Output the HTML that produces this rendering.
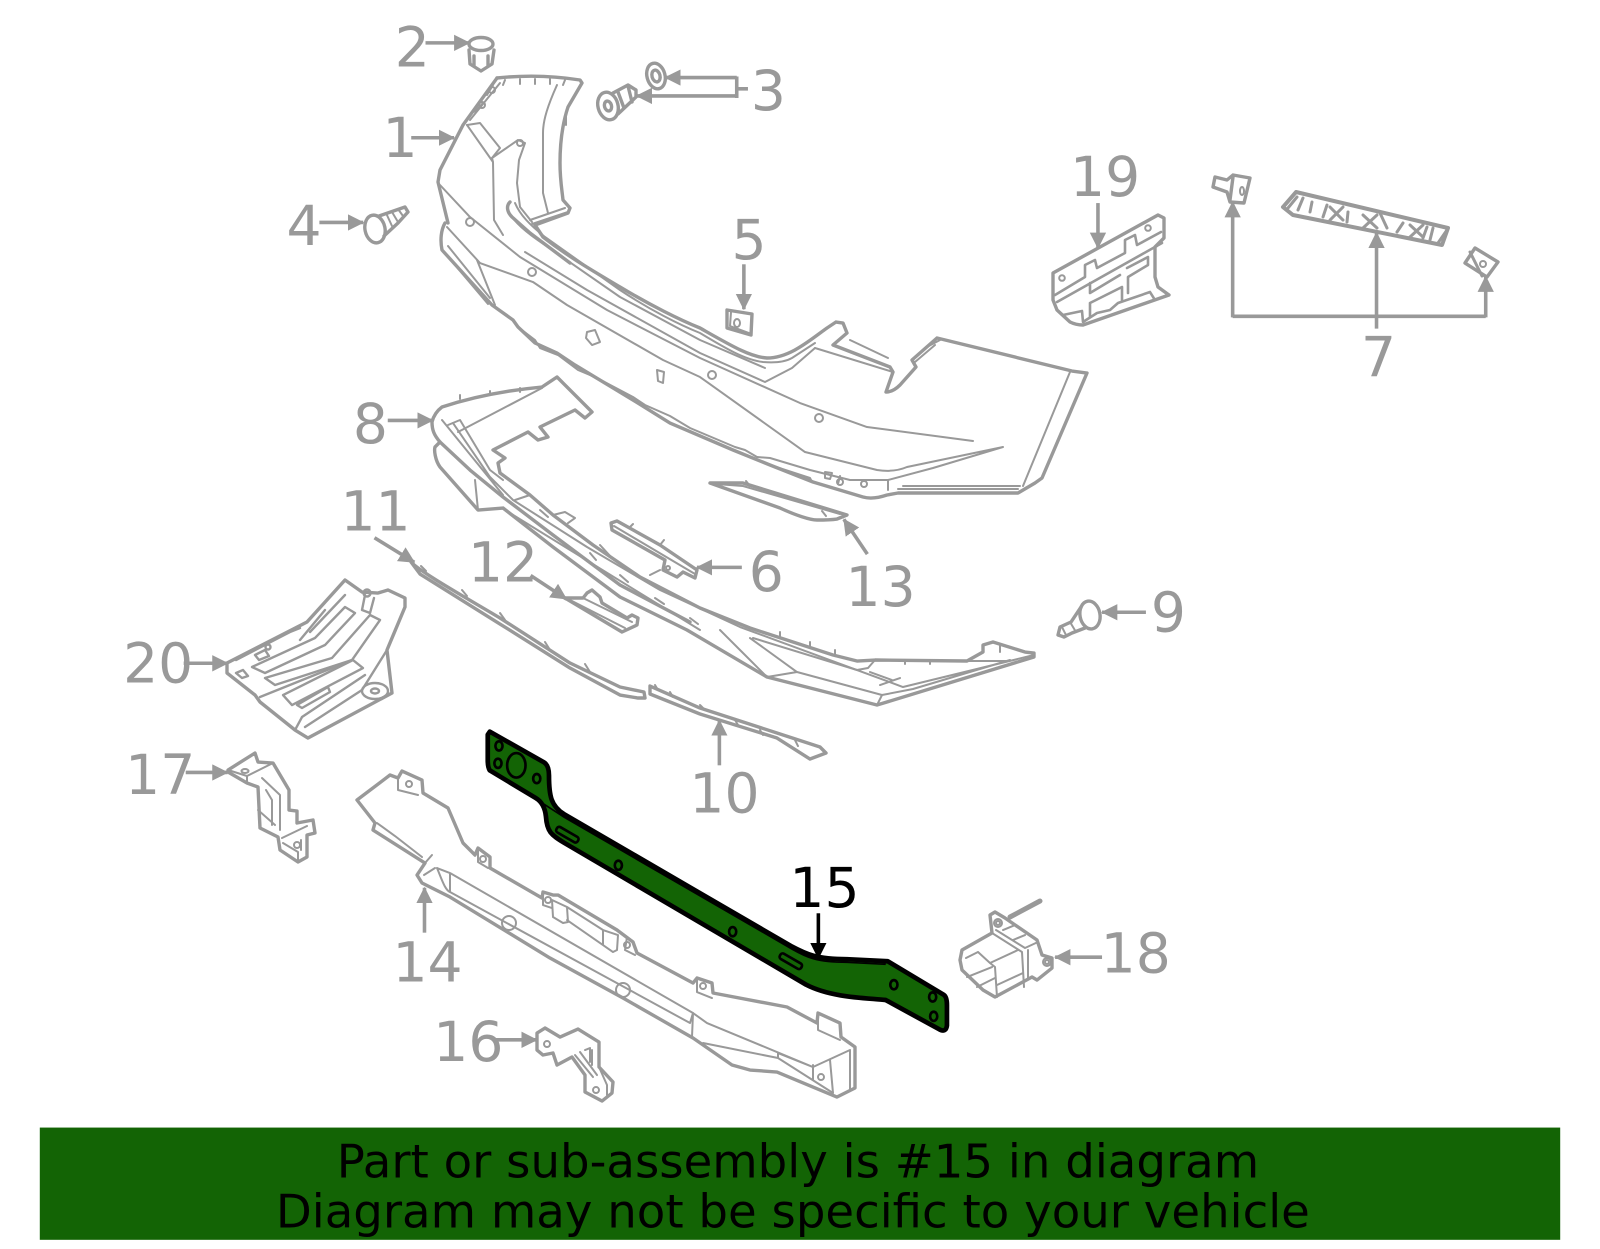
<!DOCTYPE html>
<html><head><meta charset="utf-8"><title>Bumper diagram</title>
<style>
html,body{margin:0;padding:0;background:#fff}
svg{display:block;width:1600px;height:1249px}
text{font-family:"DejaVu Sans",sans-serif}
.g{fill:none;stroke:#999;stroke-width:3.4;stroke-linejoin:round;stroke-linecap:round}
.t{fill:none;stroke:#999;stroke-width:2;stroke-linejoin:round;stroke-linecap:round}
.a{fill:none;stroke:#999;stroke-width:3.5}
.l{font-size:54px;fill:#999;text-anchor:middle}
</style></head><body>
<svg viewBox="0 0 1568 1224" preserveAspectRatio="none" xmlns="http://www.w3.org/2000/svg">
<defs>
<marker id="m" markerUnits="userSpaceOnUse" markerWidth="17" markerHeight="17" refX="15" refY="8" orient="auto"><path d="M0,0L16,8L0,16Z" fill="#999"/></marker>
<marker id="k" markerUnits="userSpaceOnUse" markerWidth="17" markerHeight="17" refX="15" refY="8" orient="auto"><path d="M0,0L16,8L0,16Z" fill="#000"/></marker>
</defs>
<rect width="1568" height="1224" fill="#fff"/>

<g transform="scale(.98)">
<!-- part 1 bumper -->
<g class="g">
<path d="M497,78C525,75 555,76 580,80L582,83L568,107C562,125 560,145 560,163C560,180 562,190 563,200L570,208L568,213L535,225"/>
<path d="M497,78L463,125L440,170L438,182L448,223"/>
<path d="M535,225L543,237C570,258 595,272 620,287C650,305 680,320 700,328C730,345 750,357 767,358C790,358 810,340 827,328L836,322L843,323L847,333L833,345L890,367L893,372L886,392C892,392 897,388 900,385L916,367L912,360L937,338L1072,371L1087,373L1042,478L1035,483L1018,493H898L887,495C878,498 870,499 863,497L813,482L770,465L733,450L670,423L633,400L575,365L557,353L535,343L518,327L513,320L492,305L442,250C440,240 441,230 445,223"/>
<path d="M510,202C506,206 507,212 512,217L530,233L570,263"/>
</g>
<g class="t">
<path d="M1070,372L1023,486"/>
<path d="M500,83L470,120M487,95L493,85M475,112L482,104"/>
<circle cx="492" cy="90" r="3"/><circle cx="482" cy="105" r="3"/>
<path d="M505,80L503,85M520,79V84M535,79V84M550,79V84M565,80L563,85"/>
<path d="M467,125L480,123L500,148L492,158L518,140L525,143L519,160L517,183L520,207L532,222"/>
<path d="M467,125L493,162L494,220L503,235M492,158L493,162"/>
<circle cx="520" cy="143" r="3"/>
<path d="M557,85C548,105 543,120 543,133V193L548,213"/>
<path d="M530,220L565,208M532,224L568,212M572,100L566,112L566,125"/>
<path d="M515,203C520,215 530,225 545,237L620,290C650,310 680,325 700,333C725,348 745,360 763,362C775,363 785,362 792,358L815,343"/>
<path d="M508,210C512,220 525,232 545,245L620,297L700,340L765,368"/>
<path d="M525,252L587,290L700,353L765,382L792,368L815,348"/>
<path d="M440,185L470,217L520,257L607,310L700,358L800,403L867,427L973,441"/>
<path d="M447,227L480,263L533,282L567,305L663,360L700,377L805,452L877,470C890,472 900,470 907,467L1003,447L933,468L888,480H850L810,470L770,458L757,457"/>
<path d="M477,260L495,305"/>
<path d="M448,246L490,298M444,252L488,304"/>
<path d="M888,480V490M898,489H1018M903,486H1020"/>
<path d="M815,348L893,372M850,340L888,358M925,348L940,340M915,362L935,345"/>
<path d="M518,327L535,340L540,348L558,355L578,370L597,378L633,397L645,405L670,416L690,428L735,447L745,450L757,457"/>
<path d="M770,465L810,478L812,482M840,476L838,484"/>
<circle cx="470" cy="222" r="4"/><circle cx="532" cy="272" r="4"/><circle cx="712" cy="375" r="4"/><circle cx="819" cy="418" r="4"/><circle cx="840" cy="482" r="3"/><circle cx="864" cy="484" r="3"/>
<path d="M587,332L595,330L600,342L592,345L586,338Z"/><path d="M657,370L664,372L663,383L658,381Z"/>
<path d="M825,472L832,473L830,479L825,478Z"/>
</g>

<!-- part 2 -->
<g class="g"><ellipse cx="481" cy="44" rx="12" ry="6.5"/><path d="M469,50L470,64L481,71L492,64L494,50M474,56V66M488,56V66"/></g>
<!-- part 3 -->
<g class="g"><ellipse cx="656" cy="76" rx="9" ry="13" transform="rotate(-15 656 76)"/><ellipse cx="656" cy="76" rx="4" ry="6" transform="rotate(-15 656 76)"/>
<ellipse cx="608" cy="106" rx="10" ry="14" transform="rotate(-15 608 106)"/><ellipse cx="608" cy="106" rx="3.5" ry="5" transform="rotate(-15 608 106)"/><path d="M613,93L628,85L636,90L636,97L618,114M618,92L624,108M628,86L632,102"/></g>
<!-- part 4 -->
<g class="g"><ellipse cx="375" cy="229" rx="10" ry="14" transform="rotate(-12 375 229)"/><path d="M379,216L405,207L408,212L398,223L384,236"/><path class="t" d="M386,213L392,226M392,212L398,222M398,209L403,216"/></g>
<!-- part 5 -->
<g class="g"><path d="M727,310L752,314L751,335L727,328Z"/><path class="t" d="M731,312L730,326L749,333"/><ellipse cx="737" cy="323" rx="3" ry="4" class="t"/></g>

<!-- part 8 -->
<g class="g">
<path d="M432,422C434,414 438,410 442,407C475,396 510,390 542,387L557,377L592,412L585,418L575,410L540,427L548,437L538,440L528,432L493,450L505,458L498,463L500,473L530,495L553,515L593,545L640,577L700,608L750,628L833,655L857,661L875,660L967,661L983,652V645L993,642L1025,652L1034,653V657L877,705L767,677L687,630L620,597L553,547L503,508L478,510L440,467C435,460 434,450 435,447L440,442C434,435 432,430 432,422Z"/>
<path d="M440,442L470,470L503,497L553,535L620,585L690,622"/>
</g>
<g class="t">
<path d="M542,388L458,432"/>
<path d="M442,420L503,495M453,423L490,477L513,500L587,547L660,590L740,627L857,670"/>
<path d="M448,425L460,420L490,470L503,480M475,480L478,510"/>
<path d="M515,500L530,495M553,515L565,512L575,518L568,523M600,545L612,558M650,575L660,570"/>
<path d="M720,630L742,652L767,677M750,638L797,672L767,677M797,672L882,695L877,705M753,638L857,670L903,687L1034,655M882,695L913,689L1010,660M875,660L868,668L857,670M967,661H1010M870,672L892,680M880,685L900,678"/>
<path d="M505,510L700,630M540,510L548,517M590,553L596,560M620,575L628,582M655,598L664,604M690,618L698,624"/>
<path d="M460,395V399M490,391V395M520,388V392M780,632V638M810,642V648M835,650V655M905,660V664M930,660V664M1000,645V652"/>
</g>

<!-- part 13 -->
<g class="g"><path d="M710,483L743,483L847,515L837,519C830,520 825,520 817,520C810,520 795,515 780,508Z"/><path class="t" d="M716,484L743,486L840,514M746,481L750,486M822,511L826,516"/></g>
<!-- part 6 -->
<g class="g"><path d="M611,523L617,521L660,545L697,570L695,578L683,572L677,577L663,570L665,560L612,530Z"/><path class="t" d="M614,526L695,574M630,527L633,524M660,545L664,540"/><circle cx="668" cy="568" r="2" class="t"/></g>
<!-- part 12 -->
<g class="g"><path d="M565,598L583,598L587,593L592,590L600,597L602,603L627,618L632,615L638,618L637,625L622,632Z"/><path class="t" d="M570,600L625,628M583,598L632,622"/></g>
<!-- part 11 -->
<g class="g"><path d="M411,562C420,572 470,600 500,618L570,663L620,687L644,692L645,698L638,698L620,695L570,668L500,624L420,574Z"/><path class="t" d="M421,566L426,571M462,590L467,596M500,613L505,620M545,642L550,650M585,664L590,672"/></g>
<!-- part 10 -->
<g class="g"><path d="M650,686L700,708L777,733L820,747L826,753L810,759L777,738L700,714L650,694Z"/><path class="t" d="M655,685L658,690M670,692L673,697M700,705L705,710M735,720L738,725M760,730L763,735M795,740L798,746"/></g>
<!-- part 9 -->
<g class="g"><ellipse cx="1090" cy="615" rx="10" ry="14" transform="rotate(-10 1090 615)"/><path d="M1081,607L1071,622L1060,627L1058,635L1064,637L1072,633L1085,628"/><path class="t" d="M1070,622L1076,632M1062,627L1066,635"/></g>

<!-- part 19 -->
<g class="g"><path d="M1053,273L1158,215L1164,218V238L1155,247V277L1158,287L1169,295L1083,325C1078,325 1074,324 1070,322L1057,310L1053,300Z"/></g>
<g class="g" style="stroke-width:2.6">
<path d="M1055,295L1085,277V265L1095,260L1097,268L1125,253V240L1135,235L1137,245L1161,232"/>
<path d="M1057,302L1162,243M1090,283V293L1120,275M1127,268L1148,257V265L1128,277V293M1090,303L1122,287V300M1090,303V317"/>
<path d="M1063,315L1082,311L1083,322L1097,313L1110,310L1118,303L1150,292L1155,300"/>
</g>
<circle cx="1062" cy="278" r="2.8" class="t"/><circle cx="1148" cy="228" r="2.8" class="t"/>

<!-- part 7 -->
<g class="g"><path d="M1215,177L1227,180L1233,175L1250,178L1244,203L1230,202L1227,192L1213,187Z"/><path d="M1233,177L1230,200"/><ellipse class="t" cx="1242" cy="191" rx="2" ry="4"/>
<path d="M1283,207L1296,192L1448,228L1442,245L1293,215Z" style="stroke-width:4"/>
<path d="M1487,277L1465,263L1475,248L1498,262Z"/><circle class="t" cx="1483" cy="264" r="3"/></g>
<g class="g" style="stroke-width:3"><path d="M1297,197L1288,208M1303,198L1298,210M1312,202L1310,212M1327,205L1323,217M1330,207L1343,220M1343,207L1330,220M1348,212L1347,222M1363,215L1377,228M1377,215L1363,228M1380,213L1387,228M1403,223L1397,232M1410,225L1423,237M1423,225L1410,237M1427,227L1423,238M1433,228L1430,240M1447,230L1438,243M1470,252L1482,276"/></g>

<!-- part 20 -->
<g class="g"><path d="M227,663L307,622L345,580L362,592L378,593L388,590L405,598V607L387,650L392,693L308,738L295,730L260,702L255,695L227,673Z"/></g>
<g class="t" style="stroke-width:2.4">
<path d="M252,667L315,638L345,607L355,613L325,645L265,673Z"/>
<path d="M265,678L332,658L370,615L380,620L352,660L275,685Z"/>
<path d="M260,697L352,660"/>
<path d="M283,695L353,660L363,668L292,705Z"/>
<path d="M297,705L328,687L330,692L302,708Z"/>
<path d="M305,727L362,690L387,650M302,717L365,675M295,730L302,717"/>
<path d="M300,640L325,610M310,632L345,595M365,595L362,610L370,613L374,598"/>
<path d="M236,660L290,632L300,628M255,655L265,650L269,656L259,660Z M236,673L243,670L248,676L242,678Z"/>
<ellipse cx="375" cy="691" rx="13" ry="8"/><ellipse cx="375" cy="691" rx="4" ry="2.5"/><circle cx="367" cy="593" r="3.5"/><circle cx="268" cy="647" r="2.5"/>
</g>

<!-- part 17 -->
<g class="g"><path d="M228,770L255,753L258,762L273,763L289,790V810L297,811L297,823L313,820L315,833L307,835V857L298,862L280,850L278,837L260,828L258,787L247,783L228,772Z"/></g>
<g class="t"><path d="M228,770L247,776L273,763M247,776V783M262,778L280,795V830M266,790L272,800V825M258,810L275,825M282,838L307,826M283,843L298,852V862M301,840V850"/><ellipse cx="245" cy="771" rx="3.5" ry="2"/><circle cx="297" cy="845" r="3"/></g>

<!-- part 14 -->
<g class="g"><path d="M357,800L390,775L398,778L402,771L422,780L423,793L448,808L463,843L475,855L478,848L490,857V868L542,898L543,892L553,895L558,895L617,930L633,942L637,953L693,983L697,978L712,983L713,993L787,1007L817,1023L818,1013L840,1023L841,1037L855,1047V1088L837,1097L777,1072L750,1070L732,1065L693,1038L623,998L550,958L450,897L422,883L417,875L425,863L373,830L375,823L357,800Z"/></g>
<g class="t">
<path d="M437,868L450,873L693,1013L692,1037M450,892L690,1023L693,1013M450,873V892M437,868C442,880 445,890 450,892"/>
<path d="M693,1013L707,1023L813,1067L850,1050M703,1043L778,1058V1053L813,1067M813,1065V1080M830,1060L833,1093M850,1050V1090M778,1058L833,1093"/>
<path d="M377,823L395,836L422,857M398,778V790L418,795M478,848L478,862L488,868M543,892V905L552,908M552,900L567,907L568,922L563,923L553,917Z M567,907L603,930M567,920L603,945M603,930L618,935L617,950L613,952L603,945Z M627,937L625,950L635,955M697,978V992L712,998M818,1013V1030L840,1040"/>
<path d="M425,863L432,855M424,875L435,868"/>
<circle cx="409" cy="784" r="3"/><circle cx="483" cy="859" r="3"/><circle cx="509" cy="923" r="7"/><circle cx="623" cy="990" r="7"/><circle cx="703" cy="986" r="3"/><circle cx="821" cy="1077" r="3"/><circle cx="627" cy="945" r="3"/><circle cx="548" cy="900" r="3"/>
</g>

<!-- part 16 -->
<g class="g"><path d="M537,1033L545,1028L560,1037L578,1029L599,1042V1067L613,1082L612,1093L602,1101L585,1092V1075L572,1057L557,1065L553,1053L543,1055L537,1050Z"/></g>
<g class="t"><path d="M575,1055L593,1077M580,1052L597,1075M585,1050L590,1048V1062M592,1050V1065M599,1067L607,1085V1095"/><circle cx="547" cy="1044" r="3"/><circle cx="596" cy="1090" r="3"/></g>

<!-- part 18 -->
<g class="g"><path d="M960,960L962,950L992,933L990,915L995,912L1005,918L1037,940L1042,955L1052,958V968L1037,980L1032,977L995,997L983,990L962,970Z"/><path d="M1010,917L1040,901" style="stroke-width:5"/></g>
<g class="t"><path d="M992,933L1022,952L1024,987M996,930L1025,948L1038,942M978,952L990,963L995,967L997,997M990,963L1018,950M967,977L992,967M977,987L995,978M997,985L1023,973M1003,930L1015,925M1013,940L1025,935M966,958L978,952M1028,950V978"/><circle cx="998" cy="923" r="4"/><circle cx="998" cy="923" r="2"/><circle cx="1047" cy="962" r="4"/><circle cx="1047" cy="962" r="2"/></g>
</g>

<!-- part 15 -->
<path d="M480,717L533,747Q538,750 538,760C538,780 540,790 553,798L775,927C790,935 800,940 830,940L870,942L925,975Q928,977 928,985L928,1005Q927,1012 921,1009L868,980C850,978 815,978 790,965L553,826C540,818 536,815 535,800C534,790 530,785 525,782L480,755Q478,752 478,745L478,720Z" fill="#136405" stroke="#000" stroke-width="4.6" stroke-linejoin="round"/>
<path d="M533,788L553,801L776,930C790,938 800,943 830,943L868,945" fill="none" stroke="#000" stroke-width="1.6"/>
<g fill="none" stroke="#000" stroke-width="2.6">
<ellipse cx="506" cy="750" rx="9" ry="12"/>
<ellipse cx="489" cy="731" rx="3.5" ry="4.5"/><ellipse cx="488" cy="748" rx="3.5" ry="4.5"/><ellipse cx="526" cy="763" rx="3.5" ry="4.5"/>
<ellipse cx="606" cy="848" rx="3.5" ry="4.5"/><ellipse cx="718" cy="913" rx="3.5" ry="4.5"/>
<ellipse cx="876" cy="965" rx="3.5" ry="4.5"/><ellipse cx="914" cy="977" rx="3.5" ry="4.5"/><ellipse cx="915" cy="996" rx="3.5" ry="4.5"/>
<rect x="544" y="815" width="24" height="6" rx="2.5" transform="rotate(30 556 818)"/><rect x="763" y="939" width="24" height="6" rx="2.5" transform="rotate(30 775 942)"/>
</g>

<!-- arrows -->
<g class="a">
<path marker-end="url(#m)" d="M417,42H460"/>
<path marker-end="url(#m)" d="M403,135H445"/>
<path marker-end="url(#m)" d="M722,76H652"/>
<path marker-end="url(#m)" d="M722,94H624"/>
<path d="M722,75V96M721,87H733"/>
<path marker-end="url(#m)" d="M313,218H356"/>
<path marker-end="url(#m)" d="M729,259V303"/>
<path marker-end="url(#m)" d="M380,412H424"/>
<path marker-end="url(#m)" d="M367,527L406,551"/>
<path marker-end="url(#m)" d="M520,564L555,587"/>
<path marker-end="url(#m)" d="M727,556H683"/>
<path marker-end="url(#m)" d="M850,543L827,509"/>
<path marker-end="url(#m)" d="M1123,600H1080"/>
<path marker-end="url(#m)" d="M1076,199V243"/>
<path d="M1456,310H1208"/>
<path marker-end="url(#m)" d="M1208,311V198"/>
<path marker-end="url(#m)" d="M1349,322V228"/>
<path marker-end="url(#m)" d="M1456,311V271"/>
<path marker-end="url(#m)" d="M705,750V706"/>
<path marker-end="url(#m)" d="M416,914V870"/>
<path marker-end="url(#m)" d="M485,1019H526"/>
<path marker-end="url(#m)" d="M182,757H223"/>
<path marker-end="url(#m)" d="M180,650H223"/>
<path marker-end="url(#m)" d="M1080,938H1034"/>
<path marker-end="url(#k)" d="M802,895V939" style="stroke:#000"/>
</g>

<!-- labels -->
<text class="l" x="404" y="65">2</text>
<text class="l" x="392" y="154">1</text>
<text class="l" x="753" y="108">3</text>
<text class="l" x="298" y="240">4</text>
<text class="l" x="734" y="254">5</text>
<text class="l" x="363" y="434">8</text>
<text class="l" x="368" y="520">11</text>
<text class="l" x="493" y="570">12</text>
<text class="l" x="751" y="579">6</text>
<text class="l" x="863" y="594">13</text>
<text class="l" x="1145" y="619">9</text>
<text class="l" x="1083" y="192">19</text>
<text class="l" x="1351" y="369">7</text>
<text class="l" x="710" y="796">10</text>
<text class="l" x="419" y="962">14</text>
<text class="l" x="459" y="1040">16</text>
<text class="l" x="157" y="778">17</text>
<text class="l" x="155" y="669">20</text>
<text class="l" x="1113" y="953">18</text>
<text class="l" x="808" y="889" style="fill:#000">15</text>

<!-- banner -->
<rect x="39" y="1105" width="1490" height="110" fill="#136405"/>
<text x="782" y="1154" font-size="45.7" text-anchor="middle" fill="#000">Part or sub-assembly is #15 in diagram</text>
<text x="777" y="1203" font-size="45.7" text-anchor="middle" fill="#000">Diagram may not be specific to your vehicle</text>
</svg>
</body></html>
